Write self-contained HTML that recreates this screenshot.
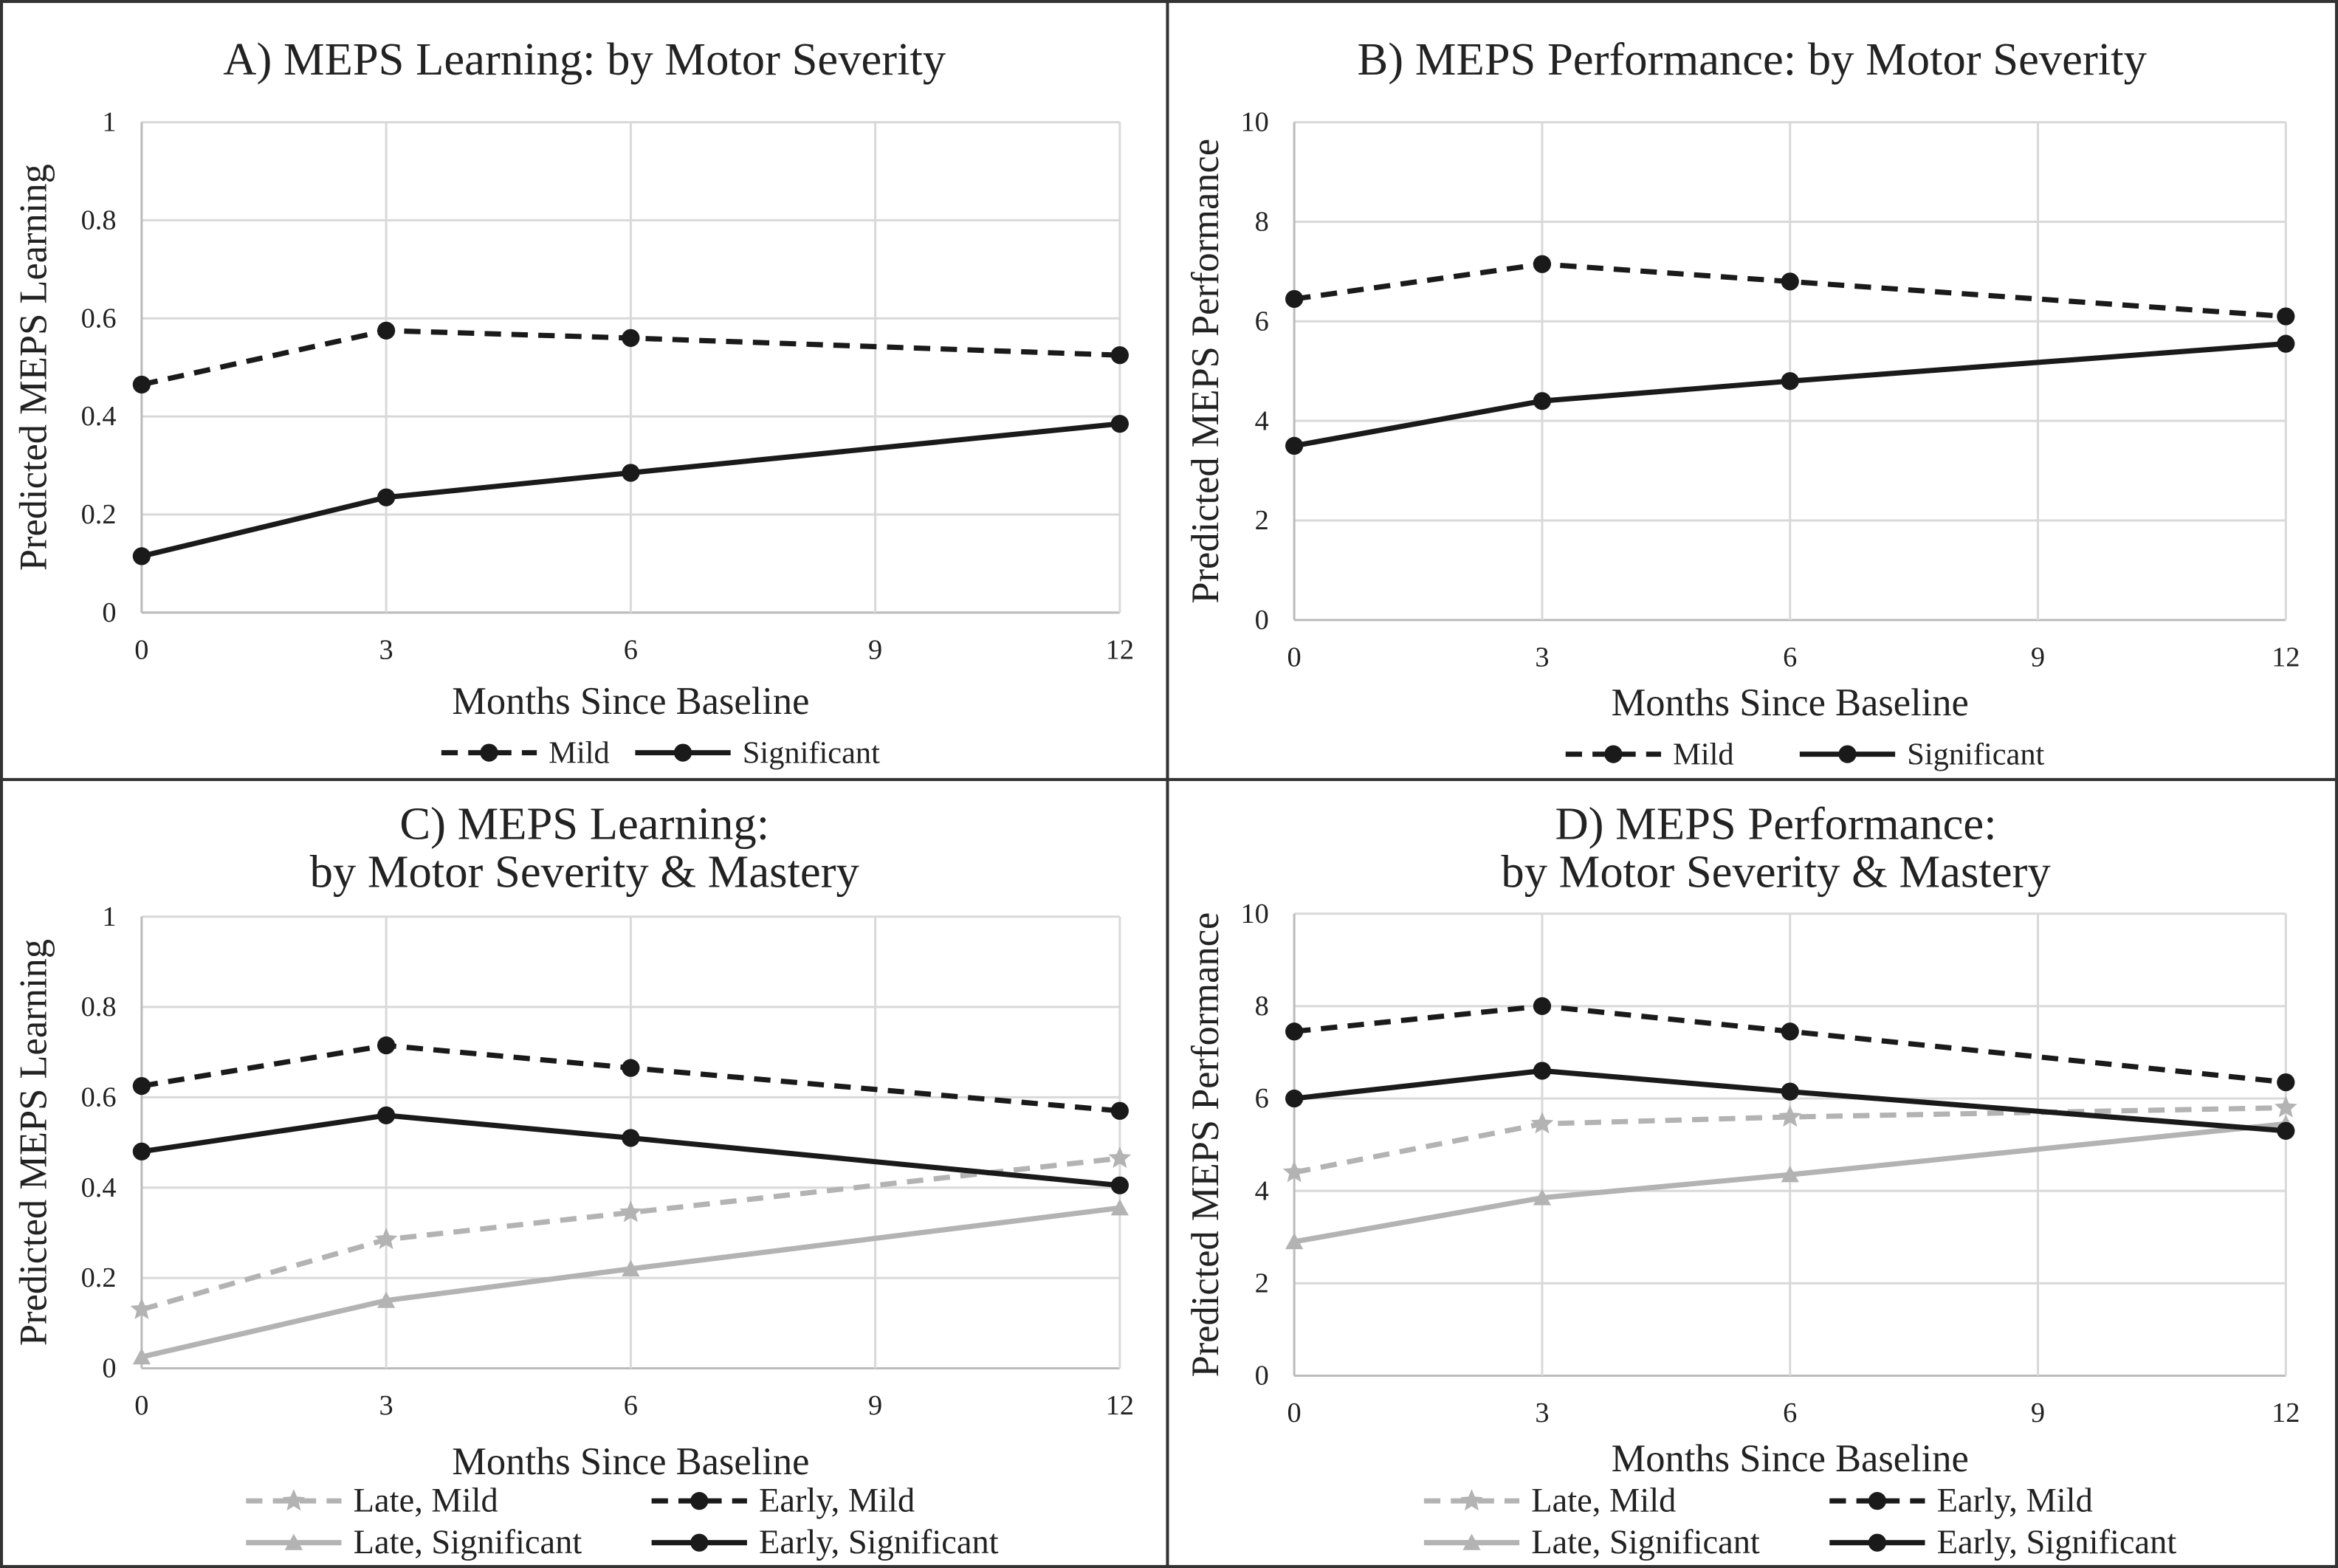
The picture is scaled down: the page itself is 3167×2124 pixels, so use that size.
<!DOCTYPE html>
<html><head><meta charset="utf-8"><style>
html,body{margin:0;padding:0;background:#fff}
svg{display:block}
text{font-family:"Liberation Serif",serif;fill:#222}
</style></head><body>
<svg id="fig" width="3167" height="2124" viewBox="0 0 1568 1052" preserveAspectRatio="none" xmlns="http://www.w3.org/2000/svg">
<rect x="1" y="1" width="1566" height="1050" fill="#fff" stroke="#333" stroke-width="2"/>
<line x1="783" y1="0" x2="783" y2="1052" stroke="#333" stroke-width="2"/>
<line x1="0" y1="523" x2="1568" y2="523" stroke="#333" stroke-width="2"/>
</svg>
<script>
const months = [0, 3, 6, 12];
const xTicks = [0, 3, 6, 9, 12];
const learnTicks = [0, 0.2, 0.4, 0.6, 0.8, 1];
const learnTickLabels = ["0", "0.2", "0.4", "0.6", "0.8", "1"];
const perfTicks = [0, 2, 4, 6, 8, 10];
const perfTickLabels = ["0", "2", "4", "6", "8", "10"];
const aMild = [0.465, 0.575, 0.56, 0.525];
const aSig = [0.115, 0.235, 0.285, 0.385];
const bMild = [6.45, 7.15, 6.8, 6.1];
const bSig = [3.5, 4.4, 4.8, 5.55];
const cEarlyMild = [0.625, 0.715, 0.665, 0.57];
const cEarlySig = [0.48, 0.56, 0.51, 0.405];
const cLateMild = [0.13, 0.285, 0.345, 0.465];
const cLateSig = [0.025, 0.15, 0.22, 0.355];
const dEarlyMild = [7.45, 8.0, 7.45, 6.35];
const dEarlySig = [6.0, 6.6, 6.15, 5.3];
const dLateMild = [4.4, 5.45, 5.6, 5.8];
const dLateSig = [2.9, 3.85, 4.35, 5.45];

const NS = "http://www.w3.org/2000/svg";
const svg = document.getElementById('fig');
const BLACK = "#1a1a1a", GRAY = "#b3b3b3";
function mk(tag, attrs, parent) {
  const e = document.createElementNS(NS, tag);
  for (const k in attrs) e.setAttribute(k, attrs[k]);
  (parent || svg).appendChild(e);
  return e;
}
function txt(s, x, y, size, anchor, parent, rot) {
  const t = mk('text', {x: x, y: y, 'font-size': size, 'text-anchor': anchor || 'middle'}, parent);
  if (rot) t.setAttribute('transform', 'rotate(-90 ' + x + ' ' + y + ')');
  t.textContent = s;
  return t;
}
function starPts(cx, cy, r) {
  let p = [];
  for (let i = 0; i < 10; i++) {
    const a = -Math.PI / 2 + i * Math.PI / 5, rr = i % 2 ? r * 0.45 : r;
    p.push((cx + rr * Math.cos(a)).toFixed(1) + ',' + (cy + rr * Math.sin(a)).toFixed(1));
  }
  return p.join(' ');
}
function marker(kind, x, y, color, g) {
  let m;
  if (kind === 'circle') m = mk('circle', {cx: x, cy: y, r: 6, fill: color}, g);
  else if (kind === 'star') m = mk('polygon', {points: starPts(x, y, 8), fill: color}, g);
  else m = mk('polygon', {points: (x) + ',' + (y - 6) + ' ' + (x + 6) + ',' + (y + 5) + ' ' + (x - 6) + ',' + (y + 5), fill: color}, g);
  return m;
}
function panel(cfg) {
  const g = mk('g', {});
  
  
  const X = v => cfg.x0 + (cfg.x1 - cfg.x0) * v / 12;
  const Y = v => cfg.y0 - (cfg.y0 - cfg.y1) * v / cfg.ymax;
  cfg.title.forEach((t, i) => {
    const e = txt(t, cfg.tx, cfg.ty + i * 32, 31, 'middle', g);
    
    
  });
  cfg.yt.forEach((v, i) => {
    const gl = mk('line', {x1: cfg.x0, x2: cfg.x1, y1: Y(v), y2: Y(v), stroke: i === 0 ? '#bbb' : '#d9d9d9', 'stroke-width': 1.5}, g);
    
    
    const tl = txt(cfg.ytl[i], cfg.x0 - 17, Y(v) + 6, 19, 'end', g);
    
    
  });
  xTicks.forEach(v => {
    const gl = mk('line', {x1: X(v), x2: X(v), y1: cfg.y0, y2: cfg.y1, stroke: v === 0 ? '#bbb' : '#d9d9d9', 'stroke-width': 1.5}, g);
    
    
    const tl = txt(String(v), X(v), cfg.y0 + 31, 19, 'middle', g);
    
    
  });
  const xt = txt('Months Since Baseline', (cfg.x0 + cfg.x1) / 2, cfg.y0 + cfg.xto, 26, 'middle', g);
  
  
  const yt = txt(cfg.ylabel, cfg.ylx, (cfg.y0 + cfg.y1) / 2, 26, 'middle', g, true);
  
  
  cfg.series.forEach(s => {
    const sg = mk('g', {}, g);
    
    
    const pts = months.map((m, i) => X(m).toFixed(1) + ',' + Y(s.data[i]).toFixed(1)).join(' ');
    const pl = mk('polyline', {points: pts, fill: 'none', stroke: s.color, 'stroke-width': 3.5, 'stroke-dasharray': s.dash ? '11,7' : 'none'}, sg);
    
    
    months.forEach((m, i) => {
      const mm = marker(s.marker, X(m), Y(s.data[i]), s.color, sg);
      
      
    });
    const lg = mk('g', {}, g);
    
    
    mk('line', {x1: s.lx, x2: s.lx + 64, y1: s.ly, y2: s.ly, stroke: s.color, 'stroke-width': 3.5, 'stroke-dasharray': s.dash ? '11,7' : 'none'}, lg);
    marker(s.marker, s.lx + 32, s.ly, s.color, lg);
    txt(s.label, s.lx + 72, s.ly + 7, cfg.lfs, 'start', lg);
  });
}
panel({name: 'panel-a', x0: 95, x1: 751, y0: 411, y1: 82, ymax: 1, yt: learnTicks, ytl: learnTickLabels, xto: 68, lfs: 21,
  title: ['A) MEPS Learning: by Motor Severity'], tx: 392, ty: 50, ylabel: 'Predicted MEPS Learning', ylx: 31,
  series: [
    {id: 'series-mild', data: aMild, color: BLACK, dash: true, marker: 'circle', label: 'Mild', lx: 296, ly: 505},
    {id: 'series-significant', data: aSig, color: BLACK, dash: false, marker: 'circle', label: 'Significant', lx: 426, ly: 505}]});
panel({name: 'panel-b', x0: 868, x1: 1533, y0: 416, y1: 82, ymax: 10, yt: perfTicks, ytl: perfTickLabels, xto: 64, lfs: 21,
  title: ['B) MEPS Performance: by Motor Severity'], tx: 1175, ty: 50, ylabel: 'Predicted MEPS Performance', ylx: 817,
  series: [
    {id: 'series-mild', data: bMild, color: BLACK, dash: true, marker: 'circle', label: 'Mild', lx: 1050, ly: 506},
    {id: 'series-significant', data: bSig, color: BLACK, dash: false, marker: 'circle', label: 'Significant', lx: 1207, ly: 506}]});
panel({name: 'panel-c', x0: 95, x1: 751, y0: 918, y1: 615, ymax: 1, yt: learnTicks, ytl: learnTickLabels, xto: 71, lfs: 23,
  title: ['C) MEPS Learning:', 'by Motor Severity & Mastery'], tx: 392, ty: 563, ylabel: 'Predicted MEPS Learning', ylx: 31,
  series: [
    {id: 'series-late-mild', data: cLateMild, color: GRAY, dash: true, marker: 'star', label: 'Late, Mild', lx: 165, ly: 1007},
    {id: 'series-late-significant', data: cLateSig, color: GRAY, dash: false, marker: 'tri', label: 'Late, Significant', lx: 165, ly: 1035},
    {id: 'series-early-mild', data: cEarlyMild, color: BLACK, dash: true, marker: 'circle', label: 'Early, Mild', lx: 437, ly: 1007},
    {id: 'series-early-significant', data: cEarlySig, color: BLACK, dash: false, marker: 'circle', label: 'Early, Significant', lx: 437, ly: 1035}]});
panel({name: 'panel-d', x0: 868, x1: 1533, y0: 923, y1: 613, ymax: 10, yt: perfTicks, ytl: perfTickLabels, xto: 64, lfs: 23,
  title: ['D) MEPS Performance:', 'by Motor Severity & Mastery'], tx: 1191, ty: 563, ylabel: 'Predicted MEPS Performance', ylx: 817,
  series: [
    {id: 'series-late-mild', data: dLateMild, color: GRAY, dash: true, marker: 'star', label: 'Late, Mild', lx: 955, ly: 1007},
    {id: 'series-late-significant', data: dLateSig, color: GRAY, dash: false, marker: 'tri', label: 'Late, Significant', lx: 955, ly: 1035},
    {id: 'series-early-mild', data: dEarlyMild, color: BLACK, dash: true, marker: 'circle', label: 'Early, Mild', lx: 1227, ly: 1007},
    {id: 'series-early-significant', data: dEarlySig, color: BLACK, dash: false, marker: 'circle', label: 'Early, Significant', lx: 1227, ly: 1035}]});
</script>
</body></html>
